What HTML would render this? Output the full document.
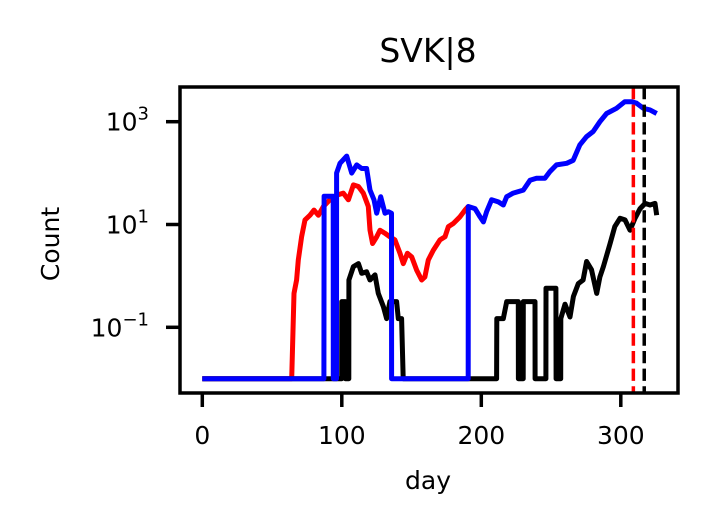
<!DOCTYPE html>
<html><head><meta charset="utf-8"><style>
html,body{margin:0;padding:0;background:#fff;}
svg{display:block;font-family:"DejaVu Sans","Liberation Sans",sans-serif;}
</style></head><body>
<svg id="chart" width="708" height="531" viewBox="0 0 708 531" xmlns="http://www.w3.org/2000/svg">
<rect x="0" y="0" width="708" height="531" fill="#fff"/>
<text x="428" y="62" font-size="33" text-anchor="middle">SVK|8</text>
<g id="plot"></g>
<rect x="180" y="87" width="498" height="306" fill="none" stroke="#000" stroke-width="3.5"/>
<g id="xticks"></g>
<g id="yticks"></g>
<text x="428" y="489" font-size="25" text-anchor="middle">day</text>
<text x="0" y="0" font-size="25" text-anchor="middle" transform="translate(59,244) rotate(-90)">Count</text>
</svg>
<script>
const xTicks = [0, 100, 200, 300];
const yTickExp = [3, 1, -1];
const redDays = [0,64.1,65.7,67.6,68.8,71.2,73.6,77.2,80.1,83.2,86.8,91.5,96.3,101.1,104.7,108.3,111.9,115.4,119.0,120.2,122.1,125.0,127.4,130.9,134.5,138.1,141.7,144.1,147.0,150.1,153.7,157.3,159.6,162.0,165.6,170.4,174.0,176.4,179.9,184.7,188.3,190.7];
const redLog = [-2,-2,-0.34,-0.08,0.31,0.76,1.09,1.18,1.28,1.18,1.35,1.48,1.57,1.61,1.48,1.77,1.74,1.61,1.35,0.89,0.63,0.76,0.89,0.83,0.76,0.70,0.44,0.24,0.44,0.37,0.11,-0.08,-0.02,0.31,0.50,0.70,0.76,0.96,1.02,1.15,1.28,1.35];
const blackDays = [0,99.9,100.0,102.5,102.6,105.0,105.1,108.3,111.9,114.3,117.8,120.2,123.8,126.2,129.8,132.1,134.5,139.3,140.5,142.9,144.0,211.0,211.1,215.8,218.2,226.5,226.6,230.0,230.1,238.5,238.6,246.3,246.4,253.5,253.6,256.9,257.0,260.0,263.6,266.0,269.5,273.0,275.5,279.0,282.7,285.0,287.5,292.3,295.7,299.4,303.0,306.6,310.2,313.8,317.4,320.9,324.5,325.7];
const blackLog = [-2,-2,-0.5,-0.5,-2,-2,-0.08,0.18,0.24,0.05,0.08,-0.08,0.02,-0.34,-0.6,-0.83,-0.5,-0.5,-0.83,-0.83,-2,-2,-0.83,-0.83,-0.5,-0.5,-2,-2,-0.5,-0.5,-2,-2,-0.24,-0.24,-2,-2,-0.83,-0.55,-0.8,-0.4,-0.15,-0.08,0.28,0.12,-0.34,-0.02,0.18,0.63,0.96,1.12,1.09,0.89,1.12,1.31,1.41,1.38,1.41,1.18];
const blueDays = [0,87.2,87.3,93.8,93.9,96.2,96.3,98.7,103.5,107.1,110.7,114.3,117.8,120.2,123.1,125.0,127.9,131.0,133.4,135.6,135.7,190.6,190.7,195.5,199.1,201.5,203.8,207.4,212.2,215.8,218.2,222.9,230.1,234.9,239.6,245.6,249.2,253.9,261.2,265.9,270.7,275.5,280.2,285.0,289.8,296.9,302.9,307.8,311.3,316.1,320.9,325.7];
const blueLog = [-2,-2,1.55,1.55,-2,-2,2.0,2.19,2.33,2.0,2.16,2.09,2.09,1.67,1.48,1.22,1.54,1.22,1.25,1.22,-2,-2,1.35,1.31,1.15,1.05,1.25,1.48,1.44,1.38,1.54,1.61,1.67,1.86,1.90,1.90,2.03,2.16,2.19,2.25,2.55,2.71,2.81,3.0,3.16,3.26,3.39,3.39,3.36,3.26,3.23,3.16];
const vlineDays = [309, 316.8];

const NS = "http://www.w3.org/2000/svg";
function xScale(d){ return 202.3 + d * 1.395; }
function yScale(l){ return 121.7 + (3 - l) * 51.4; }
const plot = document.getElementById('plot');
function mk(tag, attrs, parent){ const e = document.createElementNS(NS, tag); for (const k in attrs) e.setAttribute(k, attrs[k]); parent.appendChild(e); return e; }
function line(days, logs, color){
  const pts = days.map((d,i)=> xScale(d).toFixed(1)+','+yScale(logs[i]).toFixed(1)).join(' ');
  return mk('polyline', {points: pts, fill:'none', stroke: color, 'stroke-width': 5, 'stroke-linejoin':'round'}, plot);
}
const r = line(redDays, redLog, '#ff0000');


const k = line(blackDays, blackLog, '#000000');


const b = line(blueDays, blueLog, '#0000ff');


const vColors = ['#ff0000', '#000000'];
vlineDays.forEach((d,i)=>{
  const v = mk('line', {x1:xScale(d), x2:xScale(d), y1:87, y2:393, stroke: vColors[i], 'stroke-width':3.5, 'stroke-dasharray':'12.3,5.3'}, plot);
  
  
});
const xg = document.getElementById('xticks');
xTicks.forEach(t=>{
  const x = xScale(t);
  const tk = mk('line', {x1:x, x2:x, y1:393, y2:407, stroke:'#000', 'stroke-width':3.5}, xg);
  
  
  const tx = mk('text', {x:x, y:444, 'font-size':25, 'text-anchor':'middle'}, xg);
  tx.textContent = String(t);
  
  
});
const yg = document.getElementById('yticks');
yTickExp.forEach(e=>{
  const y = yScale(e);
  const tk = mk('line', {x1:166, x2:180, y1:y, y2:y, stroke:'#000', 'stroke-width':3.5}, yg);
  
  
  const tx = mk('text', {x:149, y:y+9, 'font-size':25, 'text-anchor':'end'}, yg);
  const base = document.createElementNS(NS, 'tspan');
  base.textContent = '10';
  tx.appendChild(base);
  const sup = document.createElementNS(NS, 'tspan');
  sup.setAttribute('dy', '-11');
  sup.setAttribute('font-size', '18');
  sup.textContent = e < 0 ? '\u2212' + Math.abs(e) : String(e);
  tx.appendChild(sup);
  
  
});
</script>
</body></html>
